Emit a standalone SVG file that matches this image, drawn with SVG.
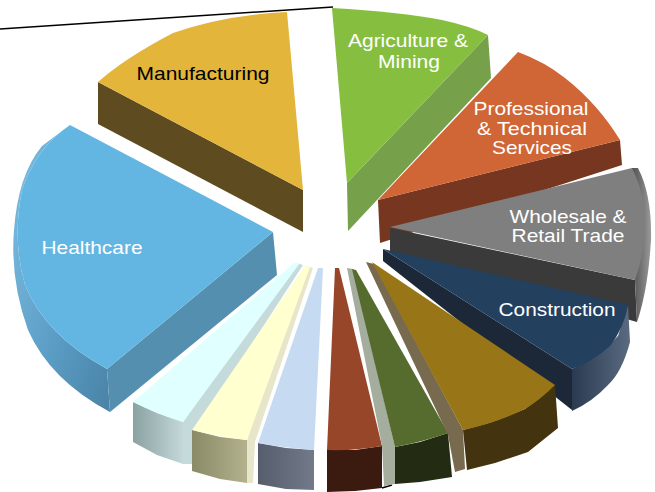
<svg xmlns="http://www.w3.org/2000/svg" width="655" height="492" viewBox="0 0 655 492">
<defs>
<style>
.lbl{font-family:"Liberation Sans",Arial,sans-serif;font-size:19px;fill:#ffffff;text-anchor:middle}
.lbl.dark{fill:#000000}
.ln{fill:none;stroke:#000000;stroke-width:1.5}
</style>
<linearGradient id="gHcRim" x1="0" y1="0" x2="1" y2="1">
<stop offset="0" stop-color="#7FC0E4"/><stop offset="0.6" stop-color="#5A9CC4"/><stop offset="1" stop-color="#4A82A6"/>
</linearGradient>
<linearGradient id="gCyan" x1="0" y1="0" x2="1" y2="0">
<stop offset="0" stop-color="#8AA2A2"/><stop offset="1" stop-color="#C4D8D8"/>
</linearGradient>
<linearGradient id="gCream" x1="0" y1="0" x2="1" y2="0">
<stop offset="0" stop-color="#8A8A66"/><stop offset="1" stop-color="#B4B28E"/>
</linearGradient>
<linearGradient id="gPale" x1="0" y1="0" x2="1" y2="0">
<stop offset="0" stop-color="#565E6E"/><stop offset="1" stop-color="#727A8A"/>
</linearGradient>
<linearGradient id="gConRim" x1="0" y1="0" x2="1" y2="0">
<stop offset="0" stop-color="#2A3A50"/><stop offset="1" stop-color="#5A6A80"/>
</linearGradient>
<linearGradient id="gGrayRim" x1="0" y1="0" x2="1" y2="0">
<stop offset="0" stop-color="#505050"/><stop offset="1" stop-color="#9A9A9A"/>
</linearGradient>
</defs>
<rect width="655" height="492" fill="#ffffff"/>

<g id="connectors">
<path class="ln" d="M0,29 L333,7"/>
<path class="ln" d="M382,488 L392,485"/>
</g>

<g id="manufacturing">
<polygon points="98,82 303,190 303,232 98,124" fill="#5E4B1F"/>
<path d="M98,82 Q125,58 173,33 Q225,15 287,12 L303,190 Z" fill="#E3B53B"/>
<text class="lbl dark" x="203" y="80" textLength="133" lengthAdjust="spacingAndGlyphs">Manufacturing</text>
</g>

<g id="agriculture">
<polygon points="488,35 491,78 348,231 347,183" fill="#77A04B"/>
<path d="M332,8 Q400,12 442,20 Q470,26 488,35 L347,183 Z" fill="#86BF3F"/>
<text class="lbl" x="408" y="47" textLength="120" lengthAdjust="spacingAndGlyphs">Agriculture &amp;</text>
<text class="lbl" x="409" y="68" textLength="62" lengthAdjust="spacingAndGlyphs">Mining</text>
</g>

<g id="professional">
<polygon points="620,140 622,165 380,243 378,200" fill="#763620"/>
<path d="M518,52 Q545,62 565,78 Q598,104 620,140 L378,200 Z" fill="#D06535"/>
<text class="lbl" x="531" y="115" textLength="115" lengthAdjust="spacingAndGlyphs">Professional</text>
<text class="lbl" x="532" y="135" textLength="110" lengthAdjust="spacingAndGlyphs">&amp; Technical</text>
<text class="lbl" x="532" y="154" textLength="80" lengthAdjust="spacingAndGlyphs">Services</text>
</g>

<g id="wholesale">
<polygon points="390,228 635,280 637,322 390,252" fill="#3A3A3A"/>
<path d="M632,168 L638,168 Q652,195 651,240 Q648,290 637,322 L635,280 Z" fill="url(#gGrayRim)"/>
<path d="M390,227 L632,168 Q646,195 645,230 Q643,258 635,280 Z" fill="#7F7F7F"/>
<text class="lbl" x="568" y="223" textLength="117" lengthAdjust="spacingAndGlyphs">Wholesale &amp;</text>
<text class="lbl" x="568" y="242" textLength="113" lengthAdjust="spacingAndGlyphs">Retail Trade</text>
</g>

<g id="construction">
<polygon points="383,249 572,369 572,410 383,261" fill="#1C2837"/>
<path d="M628,305 L630,342 Q622,372 608,385 Q592,402 572,411 L572,369 Q600,356 618,336 Z" fill="url(#gConRim)"/>
<path d="M383,249 L628,305 Q624,328 610,346 Q592,362 572,369 Z" fill="#23405F"/>
<text class="lbl" x="557" y="316" textLength="117" lengthAdjust="spacingAndGlyphs">Construction</text>
</g>

<g id="healthcare">
<path d="M70,125 Q36,148 22,190 Q12,240 25,285 Q45,335 107,369 L110,412 Q50,380 28,330 Q10,280 14,230 Q18,175 42,146 Z" fill="url(#gHcRim)"/>
<polygon points="273,232 277,275 110,412 107,369" fill="#548FB0"/>
<path d="M70,125 L273,232 L107,369 Q45,335 25,285 Q12,240 22,190 Q36,148 70,125 Z" fill="#63B6E2"/>
<text class="lbl" x="92" y="254" textLength="101" lengthAdjust="spacingAndGlyphs">Healthcare</text>
</g>

<g id="slice-cyan">
<polygon points="133,402 157,413 183,422 183,464 157,455 133,442" fill="url(#gCyan)"/>
<polygon points="296,263 303,265 192,436 192,464 183,464 183,422" fill="#C5DADA"/>
<path d="M294,263 L300,263 L183,422 Q157,414 133,402 Z" fill="#E0FFFF"/>
</g>

<g id="slice-cream">
<polygon points="192,430 220,437 247,440 247,483 220,479 192,471" fill="url(#gCream)"/>
<polygon points="306,266 313,268 255,442 253,483 247,483 247,440" fill="#E7E6CB"/>
<path d="M305,266 L310,267 L247,440 Q220,437 192,430 Z" fill="#FFFFD0"/>
</g>

<g id="slice-paleblue">
<polygon points="258,443 286,448 314,450 314,490 286,489 258,484" fill="url(#gPale)"/>
<path d="M318,268 L323,268 L314,450 Q285,448 258,443 Z" fill="#C6DBF2"/>
</g>

<g id="slice-brown">
<polygon points="327,450 355,450 382,446 382,488 355,491 327,492" fill="#3B1A10"/>
<path d="M335,268 L339,268 L382,446 Q355,451 327,450 Z" fill="#97462A"/>
</g>

<g id="slice-green">
<polygon points="347,268 353,269 395,447 395,484 384,486 382,446" fill="#A5AE9E"/>
<polygon points="395,447 420,442 448,433 452,477 420,482 395,484" fill="#232C12"/>
<path d="M352,269 L356,270 L448,433 Q422,442 395,447 Z" fill="#566B2E"/>
</g>

<g id="slice-darkyellow">
<polygon points="366,262 374,264 463,430 465,469 455,472 448,435" fill="#786A4E"/>
<polygon points="463,430 492,422 525,409 555,385 558,428 528,452 495,463 467,470" fill="#43330F"/>
<path d="M372,262 L555,385 Q540,400 525,409 Q496,423 463,430 Z" fill="#987617"/>
</g>
</svg>
